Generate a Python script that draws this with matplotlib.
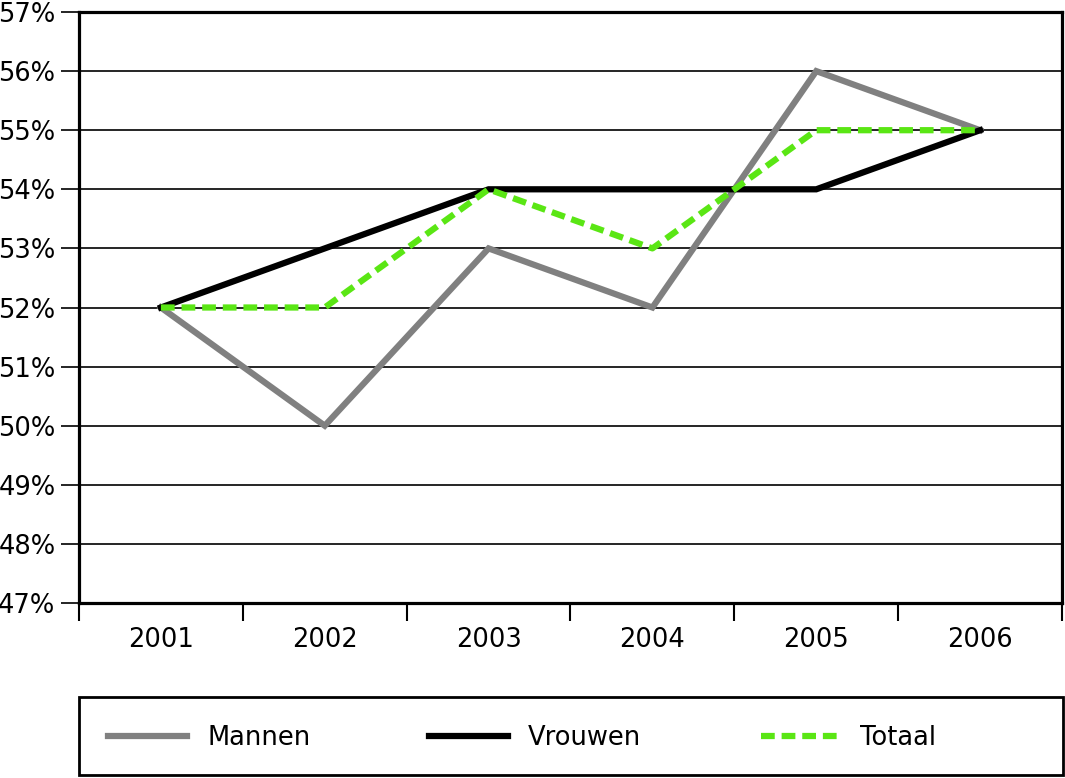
import matplotlib

matplotlib.use("Agg")
import matplotlib.pyplot as plt
import numpy as np
from matplotlib.patches import Rectangle

years = ["2001", "2002", "2003", "2004", "2005", "2006"]
mannen = [52, 50, 53, 52, 56, 55]
vrouwen = [52, 53, 54, 54, 54, 55]
totaal = [52, 52, 54, 53, 55, 55]
y_ticks = list(range(47, 58))

W, H = 1065, 778
FS = 18.5
plt.rcParams.update({"font.family": ["DejaVu Sans"], "font.size": FS})
fig = plt.figure(figsize=(W / 100, H / 100), dpi=100)
ax = fig.add_axes([79 / W, 1 - 603 / H, (1062 - 79) / W, (603 - 12) / H])

x = np.arange(len(years))
lw = 4.5
ax.plot(x, mannen, color="#808080", lw=lw, label="Mannen", solid_joinstyle="miter", zorder=3)
ax.plot(x, vrouwen, color="black", lw=lw, label="Vrouwen", solid_joinstyle="miter", zorder=4)
ax.plot(x, totaal, color="#5ae614", lw=lw, ls=(0, (2.2, 1.1)), label="Totaal", zorder=5)

ax.set_xlim(-0.5, len(years) - 0.5)
ax.set_ylim(47, 57)
ax.set_yticks(y_ticks)
ax.set_yticklabels([f"{v}%" for v in y_ticks])
ax.yaxis.grid(True, color="black", lw=1.2)
ax.set_axisbelow(True)
ax.tick_params(axis="y", length=13, width=1.2, pad=4)

ax.set_xticks(x)
ax.set_xticklabels(years)
ax.set_xticks(np.arange(len(years) + 1) - 0.5, minor=True)
ax.tick_params(axis="x", which="major", length=0, pad=17)
ax.tick_params(axis="x", which="minor", direction="out", length=13, width=1.5)
for s in ax.spines.values():
    s.set_linewidth(2.3)

# legend box drawn separately, entries placed inside it
fig.add_artist(Rectangle((79 / W, 1 - 775 / H), (1063 - 79) / W, (775 - 697) / H,
                         transform=fig.transFigure, fill=False, ec="black", lw=2))
px = FS * 100 / 72
fig.legend(
    loc="center left",
    bbox_to_anchor=(108 / W, 1 - 738 / H),
    ncol=3,
    handlelength=79 / px,
    handletextpad=20 / px,
    columnspacing=119 / px,
    borderaxespad=0,
    borderpad=0,
    frameon=False,
)

fig.savefig("out.png", dpi=100)
